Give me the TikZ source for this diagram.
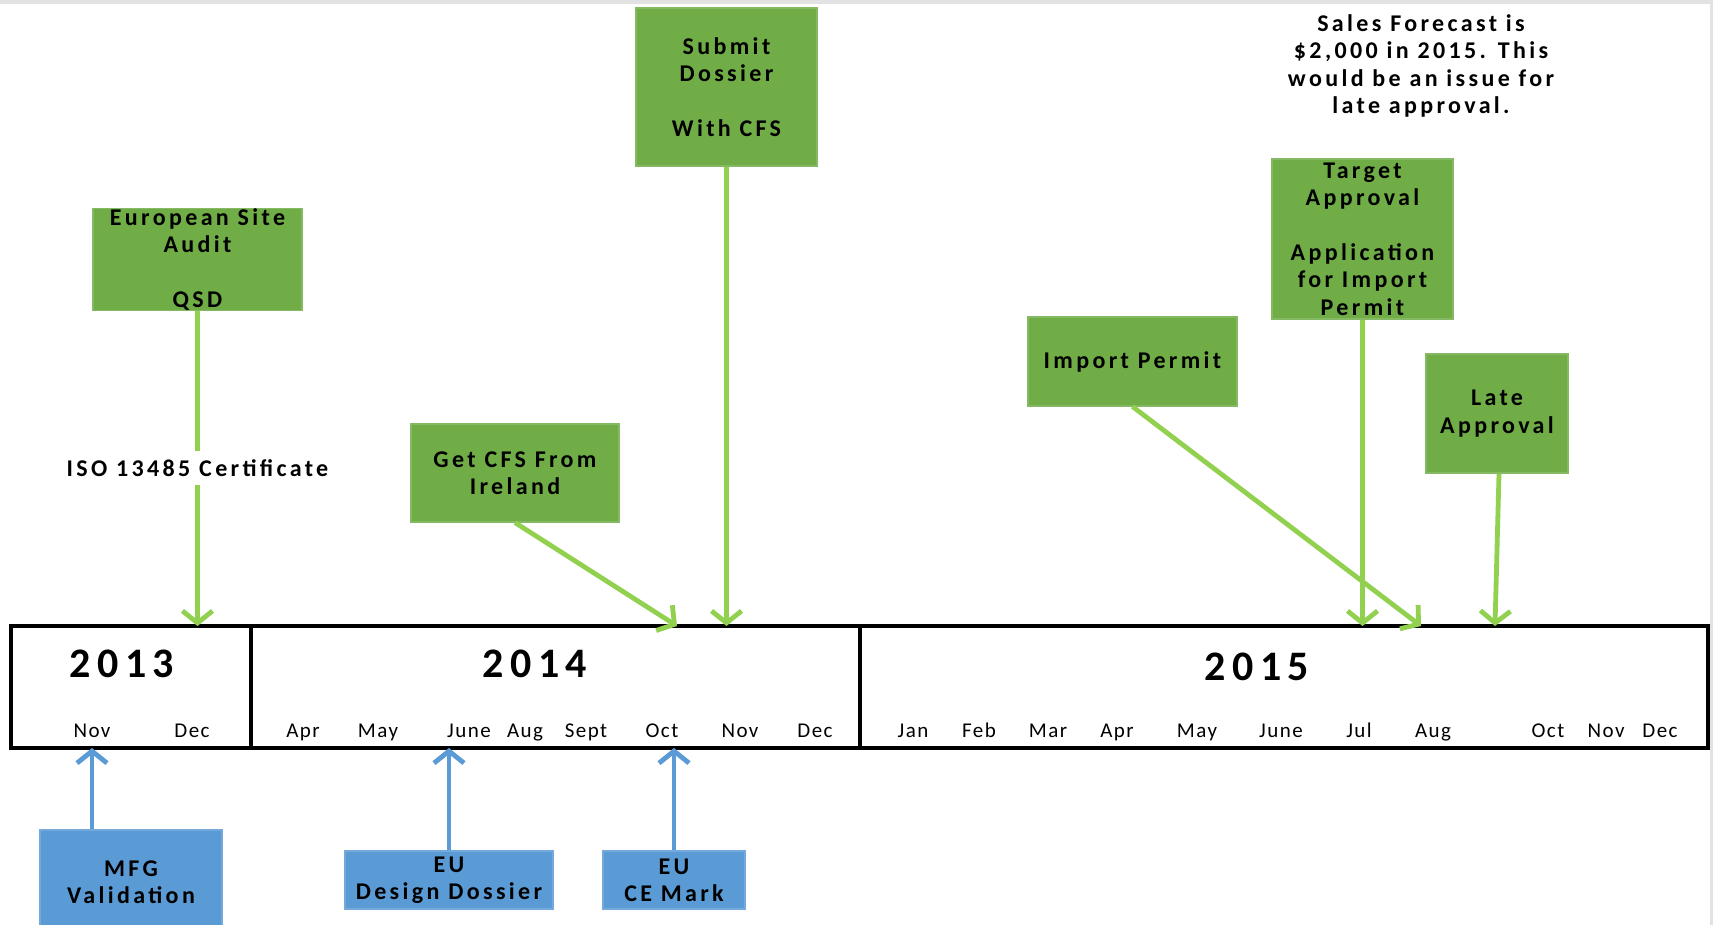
\documentclass[tikz,border=0pt]{standalone}
\usepackage{fontspec}
\setmainfont{Carlito}
\newfontfamily\wideboxfont[LetterSpace=14]{Carlito}
\newfontfamily\widemonthfont[LetterSpace=7]{Carlito}
\newfontfamily\wideyearfont[LetterSpace=15]{Carlito}
\usetikzlibrary{arrows.meta}
\definecolor{boxgreen}{HTML}{70AD47}
\definecolor{arrgreen}{HTML}{92D050}
\definecolor{boxblue}{HTML}{5B9BD5}
\definecolor{edgegray}{HTML}{E2E2E2}
\begin{document}
\begin{tikzpicture}[x=0.5pt,y=-0.5pt,
  boxtext/.style={align=center, font=\wideboxfont\bfseries\fontsize{12}{13.7}\selectfont, inner sep=0pt},
  gbox/.style={boxtext, fill=boxgreen, draw=boxgreen!85!white, line width=0.6pt},
  bbox/.style={boxtext, fill=boxblue, draw=boxblue!85!white, line width=0.6pt},
  garrow/.style={draw=arrgreen, line width=2.4pt, -{Straight Barb[length=6pt,width=15pt]}},
  barrow/.style={draw=boxblue, line width=2.4pt, -{Straight Barb[length=6pt,width=15pt]}},
  month/.style={font=\widemonthfont\fontsize{10.5}{12}\selectfont, inner sep=0pt, anchor=base},
  year/.style={font=\wideyearfont\bfseries\fontsize{21}{25}\selectfont, inner sep=0pt},
  note/.style={align=center, font=\wideboxfont\bfseries\fontsize{12}{13.7}\selectfont, inner sep=0pt}
]
\clip (0,0) rectangle (1713,925);
\useasboundingbox (0,0) rectangle (1713,925);
\fill[white] (0,0) rectangle (1713,925);
\fill[edgegray] (0,0) rectangle (1713,4);
\fill[edgegray] (1710,0) rectangle (1713,925);

% timeline
\draw[line width=2pt] (11,626) rectangle (1708,748);
\draw[line width=2pt] (251,626) -- (251,748);
\draw[line width=2pt] (860,626) -- (860,748);

\node[year] (y13) at (122,664) {2013};
\node[year] (y14) at (535,664) {2014};
\node[year] (y15) at (1257,667) {2015};

% months
\foreach \x/\m in {92/Nov,192/Dec,303/Apr,378/May,469/June,525/Aug,586/Sept,662/Oct,740/Nov,815/Dec,
  913/Jan,979/Feb,1048/Mar,1117/Apr,1197/May,1281/June,1359/Jul,1433/Aug,1548/Oct,1606/Nov,1660/Dec}
  \node[month] at (\x,737) {\m};

% green boxes
\node[gbox, minimum width=104.5pt, minimum height=49.5pt] (esa) at (197.5,259.5)
  {European Site\\Audit\\[13.7pt]QSD};
\node[gbox, minimum width=90.5pt, minimum height=79pt] (sub) at (726.5,87)
  {Submit\\Dossier\\[13.7pt]With CFS};
\node[gbox, minimum width=104pt, minimum height=49pt] (cfs) at (515,473)
  {Get CFS From\\Ireland};
\node[gbox, minimum width=104.5pt, minimum height=44.5pt] (imp) at (1132.5,361.5)
  {Import Permit};
\node[gbox, minimum width=90.5pt, minimum height=80pt] (tgt) at (1362.5,239)
  {Target\\Approval\\[13.7pt]Application\\for Import\\Permit};
\node[gbox, minimum width=71pt, minimum height=59.5pt] (late) at (1497,413.5)
  {Late\\Approval};

\node[note] (sales) at (1421,66)
  {Sales Forecast is\\\$2,000 in 2015. This\\would be an issue for\\late approval.};

% blue boxes
\node[bbox, minimum width=91pt, minimum height=52pt] (mfg) at (131,882)
  {MFG\\Validation};
\node[bbox, minimum width=104pt, minimum height=29pt] (eudd) at (449,880)
  {EU\\Design Dossier};
\node[bbox, minimum width=71pt, minimum height=29pt] (euce) at (674,880)
  {EU\\CE Mark};

% arrow targets on the timeline
\coordinate (tEsa) at (197.5,626);
\coordinate (tCfs) at (677,626);
\coordinate (tSub) at (726.5,626);
\coordinate (tImp) at (1421,626);
\coordinate (tTgt) at (1362.5,626);
\coordinate (tLate) at (1495,626);
\coordinate (bMfg) at (92,748);
\coordinate (bDd) at (449,748);
\coordinate (bCe) at (674,748);

\draw[garrow] (esa.south) -- (tEsa);
\node[note, fill=white, inner xsep=2pt, inner ysep=4pt] (iso) at (197.5,468) {ISO 13485 Certificate};
\draw[garrow] (cfs.south) -- (tCfs);
\draw[garrow] (sub.south) -- (tSub);
\draw[garrow] (imp.south) -- (tImp);
\draw[garrow] (tgt.south) -- (tTgt);
\draw[garrow] ([xshift=1pt]late.south) -- (tLate);

\draw[barrow] (mfg.north -| bMfg) -- (bMfg);
\draw[barrow] (eudd.north) -- (bDd);
\draw[barrow] (euce.north) -- (bCe);
\end{tikzpicture}
\end{document}
